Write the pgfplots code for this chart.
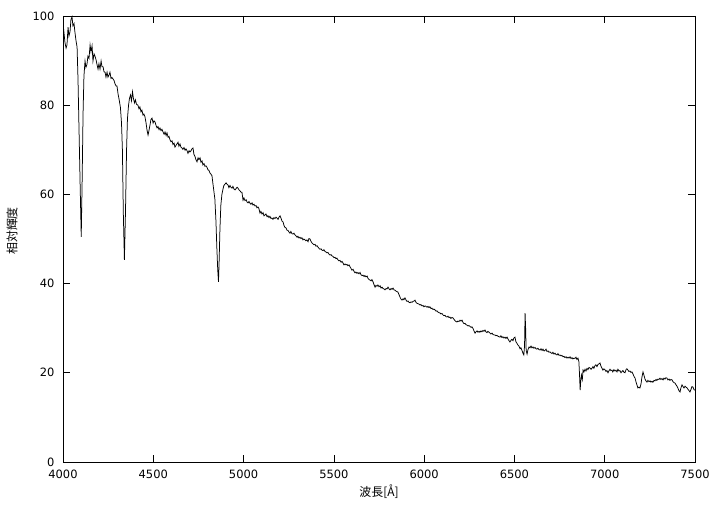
\documentclass[border=0pt]{standalone}
\usepackage{fontspec}
\setmainfont{DejaVu Sans}
\newfontfamily\cjk{Noto Sans CJK JP}
\usepackage{pgfplots}
\usepackage{pgfplotstable}
\pgfplotsset{compat=1.18}
\pgfplotstableread{
x y
4000 98.5
4006 96.0
4011 94.0
4017 92.8
4022 93.5
4028 97.5
4033 95.5
4039 96.5
4044 99.2
4050 99.8
4055 97.8
4061 98.3
4066 96.4
4072 94.5
4078 93.0
4083 86.0
4089 74.0
4095 62.0
4101 50.5
4106 63.0
4111 78.0
4116 86.5
4122 89.9
4127 88.5
4133 89.2
4138 91.0
4144 90.5
4150 93.5
4155 92.0
4161 93.3
4166 89.9
4172 91.5
4177 91.0
4183 90.2
4188 89.2
4194 88.1
4199 89.3
4205 88.1
4211 89.9
4216 88.6
4222 88.6
4227 87.5
4233 87.4
4238 86.3
4244 87.4
4249 86.3
4255 86.8
4260 87.4
4266 86.0
4271 86.2
4277 85.9
4283 85.5
4288 84.8
4294 84.3
4299 84.3
4305 82.5
4312 81.0
4318 79.5
4324 76.0
4329 70.0
4334 56.0
4340 45.3
4346 56.0
4352 70.0
4357 77.0
4363 80.0
4368 81.5
4374 82.3
4379 81.0
4385 83.0
4390 81.5
4396 80.5
4401 81.2
4407 80.2
4415 80.0
4421 79.2
4426 79.6
4432 78.5
4437 78.9
4443 77.8
4448 78.0
4454 77.4
4460 76.0
4465 74.5
4471 73.3
4476 74.3
4482 75.6
4487 76.8
4493 77.1
4499 76.0
4504 76.5
4510 76.2
4515 75.5
4521 74.9
4526 75.2
4532 74.5
4537 74.9
4543 74.3
4548 74.6
4554 74.0
4560 73.5
4565 74.0
4571 73.2
4576 73.8
4582 72.8
4587 73.0
4593 72.2
4598 71.8
4604 72.0
4609 71.2
4615 71.5
4620 70.6
4626 71.0
4631 71.3
4637 71.7
4642 70.8
4648 71.3
4653 70.6
4659 70.4
4664 70.1
4670 70.5
4676 69.9
4681 70.2
4687 69.8
4692 69.2
4698 69.8
4703 69.5
4709 69.8
4714 70.2
4720 70.4
4725 69.0
4731 68.5
4736 67.8
4742 67.3
4748 68.2
4753 67.8
4759 68.2
4764 67.2
4770 67.5
4775 66.6
4781 66.9
4786 66.3
4792 66.4
4797 66.1
4803 65.5
4808 65.4
4814 64.8
4820 64.5
4825 64.2
4830 62.5
4841 59.0
4847 54.0
4852 48.0
4857 43.0
4861 40.4
4864 44.0
4869 52.0
4874 57.5
4880 60.0
4886 61.2
4891 62.0
4897 62.3
4903 62.6
4908 62.3
4914 62.1
4919 61.5
4925 62.0
4930 61.6
4936 61.4
4941 61.8
4947 61.2
4953 61.0
4958 61.3
4964 61.6
4969 61.4
4975 61.0
4980 60.8
4986 60.5
4991 60.5
4997 58.7
5002 59.2
5008 58.6
5014 58.8
5019 58.3
5025 58.1
5030 58.4
5036 58.0
5041 57.8
5047 58.1
5052 57.6
5058 57.8
5063 57.4
5069 57.5
5074 57.0
5080 57.2
5085 56.8
5091 55.8
5096 56.2
5102 55.6
5108 55.9
5113 55.2
5119 55.4
5124 55.6
5130 55.0
5135 55.2
5141 54.8
5146 55.1
5152 54.6
5157 54.7
5163 54.4
5168 54.8
5174 54.6
5180 54.9
5185 54.7
5191 54.4
5196 54.9
5202 55.2
5208 54.6
5213 54.0
5219 53.8
5224 53.0
5229 52.6
5235 52.5
5240 52.0
5246 51.9
5251 51.6
5257 51.3
5262 51.7
5268 51.2
5274 51.1
5279 51.3
5285 50.9
5290 50.7
5296 50.4
5301 50.6
5307 50.2
5312 50.4
5318 50.1
5323 50.3
5329 49.8
5334 50.0
5340 49.8
5345 49.6
5351 49.8
5357 49.4
5362 50.1
5368 50.0
5373 49.5
5379 49.1
5385 48.9
5390 48.7
5396 48.8
5401 48.4
5407 48.5
5412 48.2
5418 47.9
5423 47.7
5429 47.8
5434 47.5
5440 47.4
5445 47.6
5451 47.2
5456 47.1
5462 46.9
5467 47.0
5473 46.6
5479 46.4
5484 46.5
5490 46.2
5495 46.1
5501 45.8
5506 45.9
5512 45.6
5517 45.7
5523 45.3
5528 45.1
5534 45.2
5540 44.8
5545 45.0
5551 44.6
5556 44.2
5562 44.4
5567 44.2
5573 44.3
5578 44.0
5584 44.2
5589 43.8
5595 43.4
5600 43.0
5606 43.2
5611 42.8
5617 42.4
5622 42.6
5628 42.3
5633 42.5
5639 42.2
5645 42.5
5650 42.0
5656 41.8
5661 41.9
5667 41.6
5672 41.8
5678 41.5
5684 41.7
5689 41.2
5695 40.9
5700 40.8
5706 40.6
5711 40.9
5717 40.4
5722 39.8
5728 39.2
5733 39.6
5739 39.4
5744 39.7
5750 39.3
5756 39.5
5761 39.0
5767 39.2
5772 38.9
5778 38.8
5783 38.6
5789 38.9
5794 38.8
5800 39.2
5806 38.8
5811 38.6
5817 38.9
5822 38.7
5828 39.0
5833 38.6
5839 38.5
5844 38.3
5850 38.2
5855 38.1
5861 37.5
5866 37.0
5872 36.5
5877 36.3
5883 36.6
5888 36.4
5894 36.8
5900 36.3
5905 36.0
5911 36.1
5916 35.8
5922 35.7
5927 35.9
5933 35.8
5938 36.0
5944 36.1
5949 36.3
5955 35.8
5960 35.6
5966 35.5
5971 35.4
5977 35.2
5982 35.3
5988 35.0
5994 35.1
5999 34.8
6005 35.0
6010 34.9
6016 34.7
6021 34.9
6027 34.6
6032 34.8
6038 34.4
6043 34.5
6049 34.2
6054 34.3
6060 34.1
6066 33.8
6071 33.9
6077 33.6
6082 33.5
6088 33.4
6093 33.2
6099 33.3
6104 33.0
6110 32.8
6115 32.9
6121 32.6
6127 32.5
6132 32.7
6137 32.4
6143 32.5
6148 32.2
6154 32.4
6160 32.3
6165 32.0
6171 31.7
6176 31.5
6182 31.4
6187 31.6
6193 31.5
6199 31.8
6204 31.6
6210 31.8
6215 31.3
6221 31.0
6226 31.1
6232 30.8
6237 30.7
6243 30.5
6248 30.6
6254 30.4
6260 30.2
6265 30.3
6271 29.9
6276 29.4
6282 28.9
6287 29.2
6293 29.4
6298 29.1
6304 29.3
6309 29.1
6315 29.4
6320 29.2
6326 29.5
6331 29.3
6337 29.6
6342 29.2
6348 29.0
6353 29.3
6359 29.1
6365 28.9
6370 28.7
6376 28.9
6381 28.6
6387 28.5
6392 28.5
6398 28.3
6403 28.4
6409 28.2
6414 28.1
6420 28.0
6425 28.3
6431 27.9
6436 28.1
6442 27.8
6448 28.0
6453 27.7
6459 28.0
6464 27.6
6470 27.2
6475 26.9
6481 27.3
6486 27.5
6492 27.2
6497 27.8
6503 28.0
6508 27.0
6514 26.6
6520 26.2
6525 26.0
6531 25.4
6536 25.6
6542 25.0
6547 24.4
6552 24.0
6556 26.0
6559 33.4
6562 30.0
6565 25.0
6570 24.2
6575 25.2
6581 25.8
6586 25.6
6592 26.0
6597 25.6
6603 25.8
6608 25.5
6614 25.7
6619 25.4
6625 25.3
6630 25.5
6636 25.2
6642 25.1
6647 25.4
6653 25.0
6658 25.3
6664 24.9
6669 25.0
6675 25.3
6680 24.8
6686 24.9
6691 24.6
6697 24.7
6702 24.5
6708 24.3
6713 24.6
6719 24.2
6725 24.4
6730 24.1
6736 24.0
6741 24.3
6747 23.9
6752 24.0
6758 23.8
6763 23.9
6769 23.6
6774 23.7
6780 23.4
6786 23.6
6791 23.3
6797 23.5
6802 23.3
6808 23.6
6813 23.2
6819 23.4
6824 23.1
6830 23.3
6835 23.2
6841 23.5
6846 23.0
6852 23.3
6857 22.5
6860 20.0
6864 16.1
6867 18.0
6871 19.5
6876 18.5
6880 20.6
6885 20.2
6891 20.8
6896 20.4
6902 21.0
6907 20.7
6913 21.2
6918 21.1
6924 20.8
6929 21.0
6935 21.4
6940 21.0
6946 21.6
6951 21.8
6957 21.4
6963 21.9
6968 22.0
6974 22.2
6979 21.5
6985 21.0
6990 20.6
6996 20.9
7001 20.7
7007 20.3
7012 20.5
7018 20.0
7023 20.4
7029 20.8
7034 20.5
7040 20.6
7045 20.2
7051 20.7
7057 20.4
7062 20.6
7068 20.2
7073 20.8
7079 20.4
7084 20.5
7090 20.0
7096 20.3
7101 20.5
7107 20.1
7112 20.0
7118 20.7
7123 20.9
7129 20.6
7134 20.3
7140 20.4
7145 20.1
7151 20.2
7156 19.8
7162 19.2
7168 18.8
7173 18.0
7179 17.2
7184 16.6
7190 16.8
7195 16.6
7201 17.5
7206 19.0
7212 20.2
7217 19.5
7223 18.6
7228 18.2
7234 17.9
7239 18.3
7245 18.0
7251 18.2
7256 17.9
7262 18.1
7267 17.9
7273 18.3
7278 18.2
7284 18.5
7289 18.3
7295 18.6
7300 18.5
7306 18.8
7311 18.5
7317 18.7
7323 18.4
7328 18.8
7334 18.6
7339 18.9
7345 18.8
7350 18.4
7356 18.6
7361 18.3
7367 18.5
7373 18.4
7378 18.0
7384 17.8
7389 17.7
7395 17.3
7400 17.0
7406 16.5
7411 16.0
7417 15.7
7422 16.6
7428 17.3
7434 16.9
7439 16.6
7445 17.0
7450 16.8
7456 16.6
7461 16.3
7467 16.0
7472 15.7
7478 16.3
7483 16.9
7489 16.8
7495 16.2
7500 16.1
}\spectrum
\begin{document}
\begin{tikzpicture}
\path[use as bounding box] (-63bp,-43bp) rectangle (658bp,462bp);
\begin{axis}[
  at={(0,0)}, anchor=south west,
  scale only axis, width=632bp, height=446bp,
  xmin=4000, xmax=7500, ymin=0, ymax=100,
  xtick={4000,4500,...,7500}, ytick={0,20,...,100},
  minor tick num=0,
  tick align=inside, major tick length=7bp,
  axis line style={line width=0.9bp},
  every tick/.style={black, line width=0.7bp},
  /pgf/number format/assume math mode=true,
  /pgf/number format/1000 sep={},
  scaled ticks=false,
  tick label style={font=\fontsize{11.5}{13}\selectfont},
  xticklabel style={yshift=-4bp},
  yticklabel style={xshift=-5bp},
  xlabel={\cjk 波長[Å]},
  ylabel={\cjk 相対輝度},
  label style={font=\fontsize{12}{14}\selectfont},
  xlabel style={at={(axis description cs:0.5,-0.066)}, anchor=center},
  ylabel style={at={(axis description cs:-0.0807,0.518)}, anchor=center},
]
\addplot[black, line width=0.75bp, mark=none] table[x=x, y=y] {\spectrum};
\end{axis}
\end{tikzpicture}
\end{document}
